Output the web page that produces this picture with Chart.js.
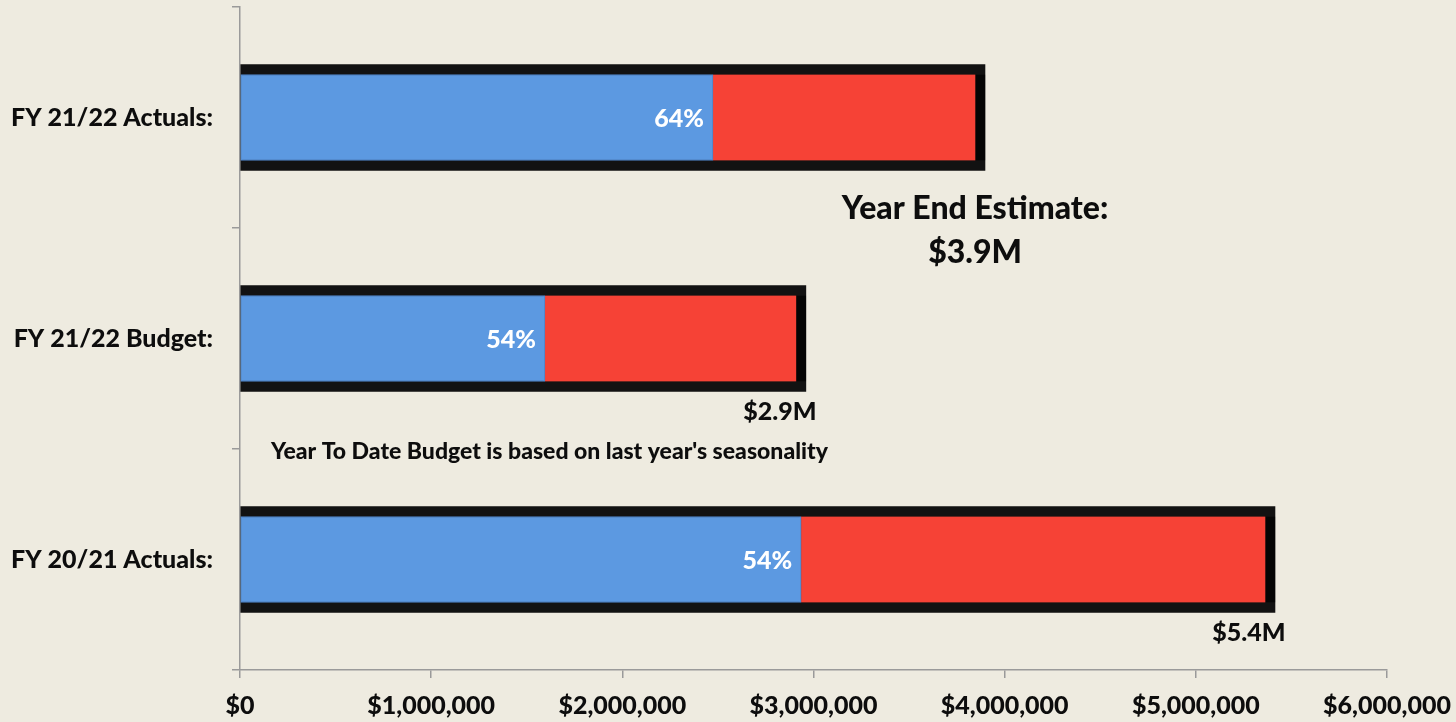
<!DOCTYPE html>
<html>
<head>
<meta charset="utf-8">
<script src="https://cdn.jsdelivr.net/npm/chart.js@4"></script>
<style>
  html, body { margin: 0; padding: 0; background: #EEEBE0; }
  #wrap { width: 1456px; height: 722px; }
</style>
</head>
<body>
<div id="wrap"><canvas id="chartCanvas" width="1456" height="722"></canvas></div>
<script>
// data
var categories = ['FY 21/22 Actuals:', 'FY 21/22 Budget:', 'FY 20/21 Actuals:']
var ytdValues = [2474000, 1595000, 2935000]     // blue part
var totalValues = [3897000, 2960000, 5414000]   // black frame end
var pctLabels = ['64%', '54%', '54%']
var totalLabels = ['', '$2.9M', '$5.4M']
var xTicks = [0, 1000000, 2000000, 3000000, 4000000, 5000000, 6000000]

var estimateTitle = 'Year End Estimate:'
var estimateValue = '$3.9M'
var noteText = "Year To Date Budget is based on last year's seasonality"

var FONT = 'Lato, "Open Sans", sans-serif'
var INK = '#0d0d0d'

// red = from the end of blue up to the total
var restRanges = ytdValues.map((v, i) => [v, totalValues[i]])

function money(v) {
    return '$' + Number(v).toLocaleString('en-US')
}

// black frame: grey at the top edge, black at the bottom
function frameColor(context) {
    var bar = context.element
    if (!bar || !isFinite(bar.y)) return '#121212'
    var h = bar.height || 106
    var g = context.chart.ctx.createLinearGradient(0, bar.y - h / 2, 0, bar.y + h / 2)
    g.addColorStop(0, '#4a4a4a')
    g.addColorStop(0.1, '#222222')
    g.addColorStop(1, '#000000')
    return g
}

// labels drawn on top of the bars
var textPlugin = {
    id: 'texts',
    afterDatasetsDraw(chart) {
        var ctx = chart.ctx
        var xs = chart.scales.x
        var ys = chart.scales.y
        var blue = chart.getDatasetMeta(1).data
        var frame = chart.getDatasetMeta(2).data
        ctx.save()
        ctx.textBaseline = 'middle'

        // percentages at the end of the blue part
        ctx.fillStyle = '#ffffff'
        ctx.textAlign = 'right'
        ctx.font = '900 25px ' + FONT
        blue.forEach((bar, i) => ctx.fillText(pctLabels[i], bar.x - 9, bar.y + 1))

        // totals under the frames
        ctx.fillStyle = INK
        ctx.textAlign = 'center'
        frame.forEach((bar, i) => {
            if (!totalLabels[i]) return
            ctx.fillText(totalLabels[i], bar.x - 26, bar.y + bar.height / 2 + 20)
        })

        // estimate text
        ctx.font = '900 32px ' + FONT
        ctx.fillText(estimateTitle, xs.getPixelForValue(3845000), ys.getPixelForValue(0.414))
        ctx.fillText(estimateValue, xs.getPixelForValue(3845000), ys.getPixelForValue(0.61))

        // note
        ctx.font = '900 23px ' + FONT
        ctx.textAlign = 'left'
        ctx.fillText(noteText, xs.getPixelForValue(162000), ys.getPixelForValue(1.513))
        ctx.restore()
    }
}

new Chart(document.getElementById('chartCanvas'), {
    type: 'bar',
    data: {
        labels: categories,
        datasets: [
            {
                label: 'Rest',
                data: restRanges,
                backgroundColor: '#F64236',
                borderColor: '#050505',
                borderWidth: { top: 0, right: 10, bottom: 0, left: 0 },
                borderSkipped: false,
                barThickness: 86,
                grouped: false,
                order: 1
            },
            {
                label: 'Year To Date',
                data: ytdValues,
                backgroundColor: '#5C99E1',
                borderColor: '#4F83C6',
                borderWidth: 1,
                borderSkipped: false,
                barThickness: 86,
                grouped: false,
                order: 0
            },
            {
                label: 'Total',
                data: totalValues,
                backgroundColor: frameColor,
                borderWidth: 0,
                barThickness: 106,
                grouped: false,
                order: 2
            }
        ]
    },
    options: {
        indexAxis: 'y',
        responsive: false,
        animation: false,
        layout: { padding: { top: 7, right: 69, bottom: 0, left: 0 } },
        plugins: {
            legend: { display: false },
            tooltip: { enabled: false }
        },
        scales: {
            x: {
                min: 0,
                max: 6000000,
                afterBuildTicks: scale => { scale.ticks = xTicks.map(v => ({ value: v })) },
                afterFit: scale => { scale.height = 52; scale.paddingLeft = 0; scale.paddingRight = 0 },
                grid: { drawOnChartArea: false, drawTicks: true, tickLength: 8, color: '#9a9a9a', lineWidth: 1.5 },
                border: { display: true, color: '#9a9a9a', width: 1.5 },
                ticks: {
                    color: INK,
                    padding: 13,
                    maxRotation: 0,
                    font: { family: FONT, size: 25, weight: '900' },
                    callback: v => money(v)
                }
            },
            y: {
                afterFit: scale => { scale.width = 240; scale.paddingTop = 0; scale.paddingBottom = 0 },
                grid: { drawOnChartArea: false, drawTicks: true, tickLength: 8, color: '#9a9a9a', lineWidth: 1.5, offset: true },
                border: { display: true, color: '#9a9a9a', width: 1.5 },
                ticks: {
                    color: INK,
                    padding: 19,
                    font: { family: FONT, size: 25, weight: '900' }
                }
            }
        }
    },
    plugins: [textPlugin]
})
</script>
</body>
</html>
